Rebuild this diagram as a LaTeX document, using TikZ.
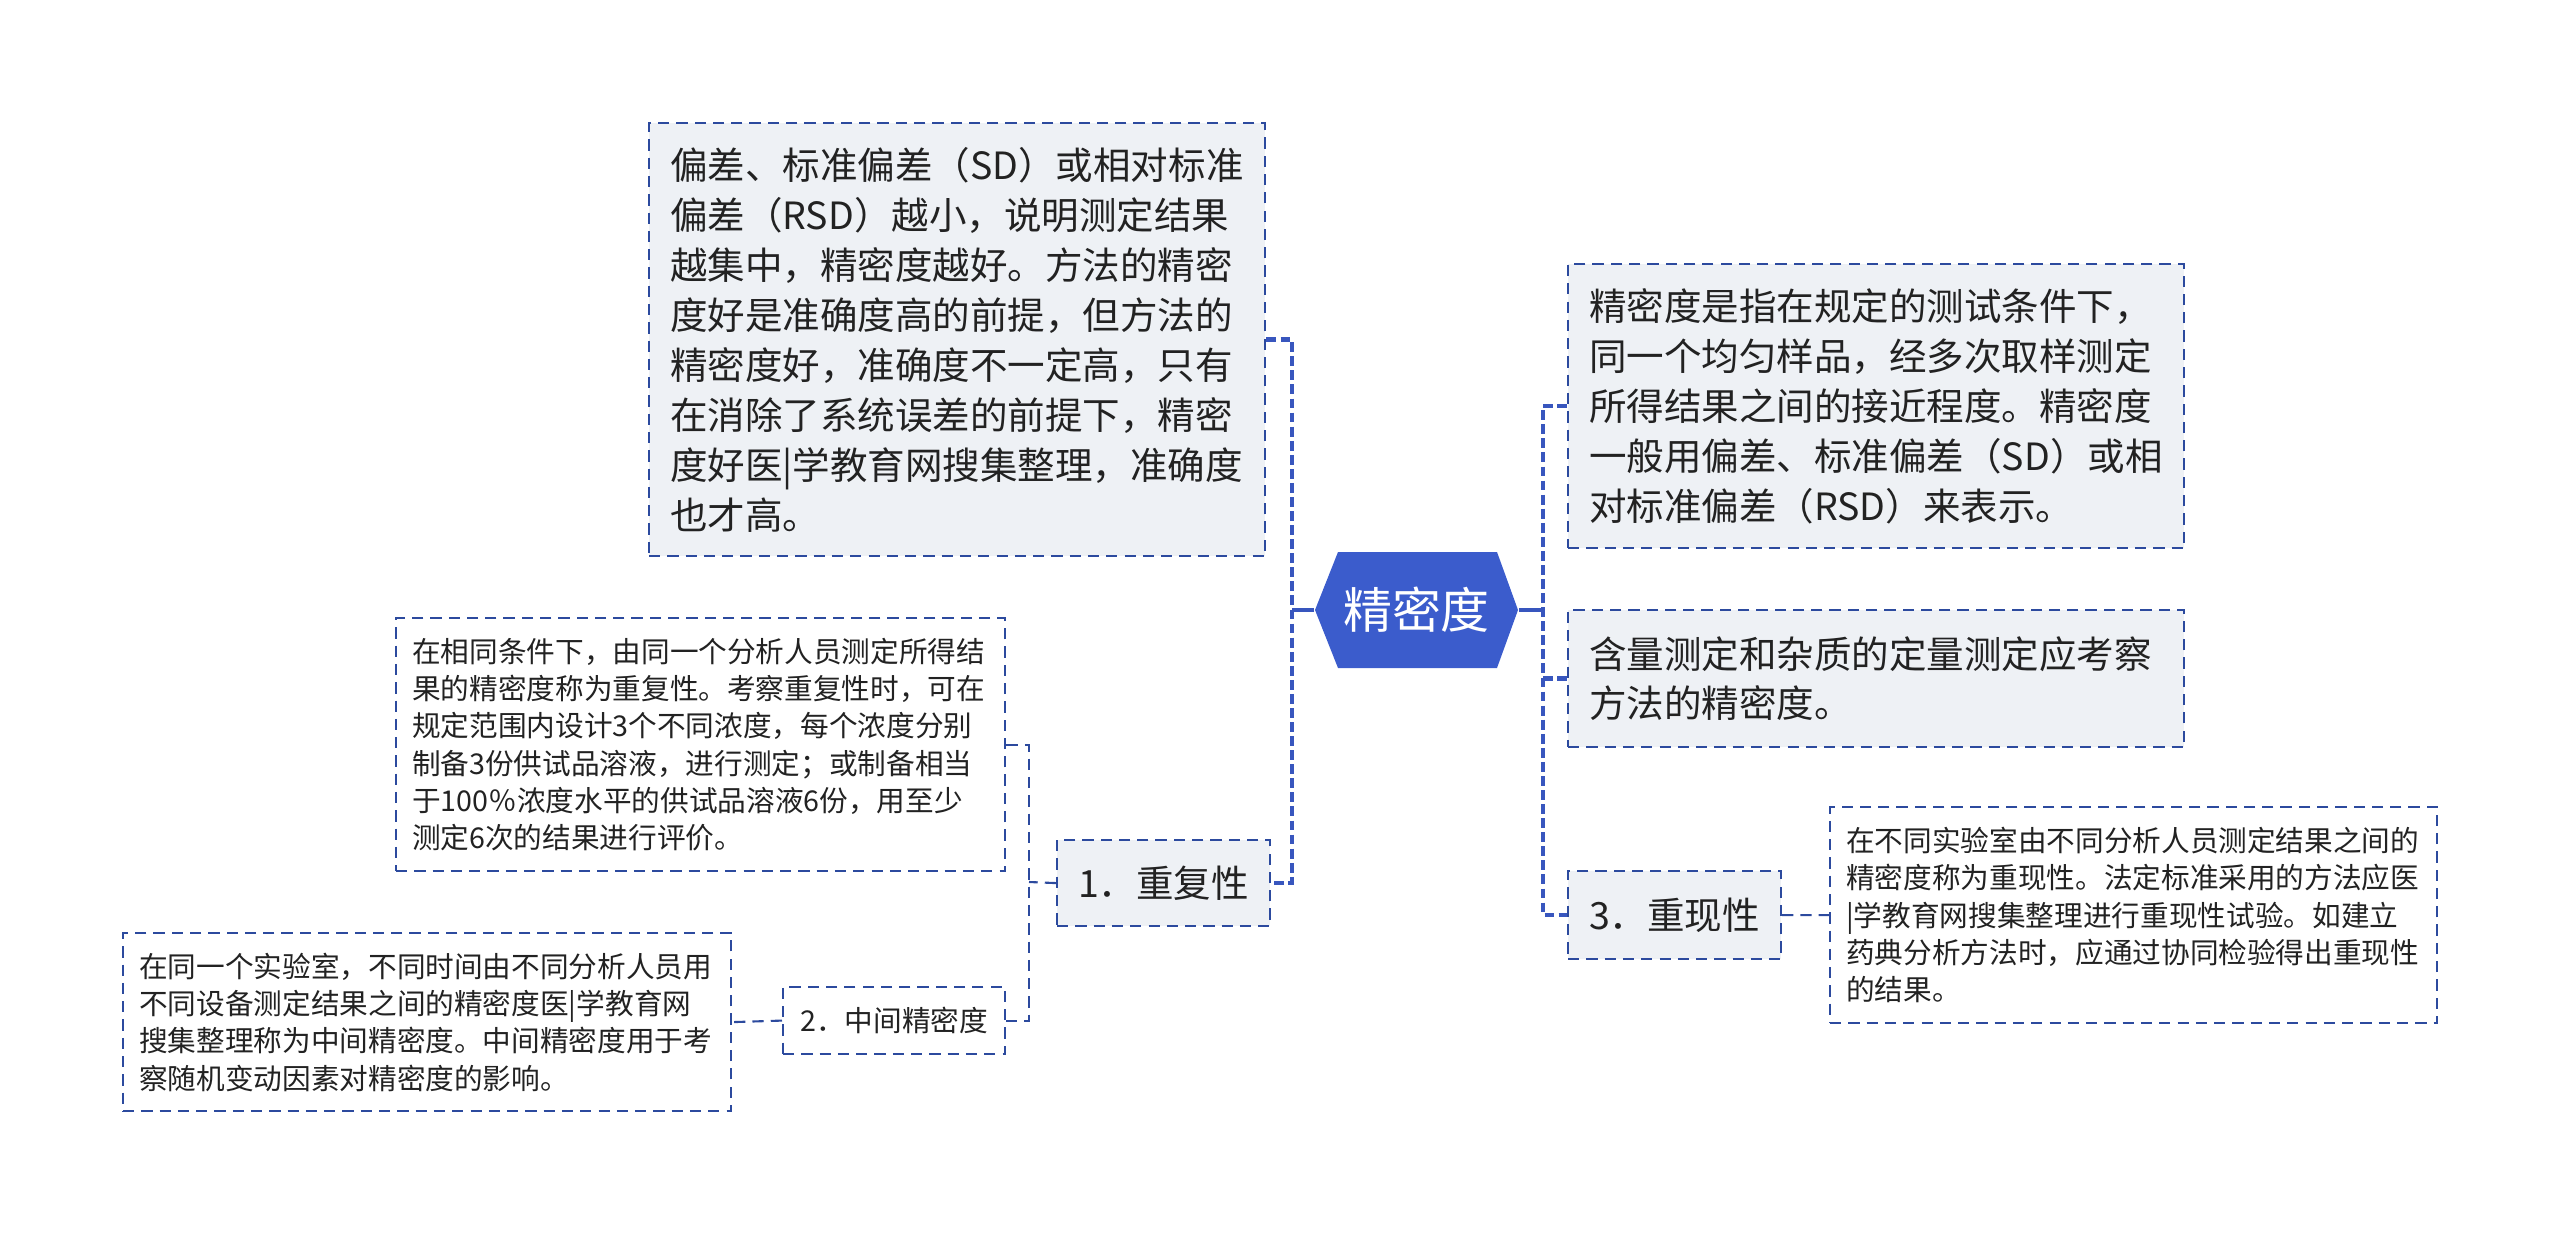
\documentclass[tikz,border=0pt]{standalone}
\usepackage{fontspec}
\setmainfont{Noto Sans CJK SC}
\definecolor{lineblue}{HTML}{3856BE}
\definecolor{edgeblue}{HTML}{2C4A9E}
\definecolor{hexblue}{HTML}{3B5CCC}
\definecolor{boxfill}{HTML}{EEF1F5}
\definecolor{inkgray}{HTML}{222222}
\newcommand{\bigtext}{\fontsize{10.67pt}{14.2pt}\selectfont}
\newcommand{\smalltext}{\fontsize{8.15pt}{10.6pt}\selectfont}
\begin{document}
\begin{tikzpicture}[x=0.01cm,y=-0.01cm,
  note/.style={draw=edgeblue,line width=0.6pt,dash pattern=on 3.2pt off 2pt,fill=boxfill,text=inkgray,align=left,anchor=north west,inner ysep=0pt,inner xsep=0.21cm,font=\bigtext},
  leaf/.style={note,fill=white,inner xsep=0.16cm,font=\smalltext},
  trunk/.style={lineblue,line width=1.3pt,dash pattern=on 2.8pt off 1.2pt},
  twig/.style={edgeblue,line width=0.6pt,dash pattern=on 3.2pt off 2pt}]
  \useasboundingbox (0,0) rectangle (2560,1233);
  \fill[hexblue] (1315,610) -- (1338,552) -- (1497,552) -- (1518,610) -- (1497,668) -- (1338,668) -- cycle;
  \node[text=white,font=\fontsize{13.9pt}{16pt}\selectfont,minimum width=2.03cm,minimum height=1.16cm,inner sep=0pt] (root) at (1416.5,610) {精密度};
  \node[note,text width=5.74cm,minimum height=4.33cm] (eval) at (648,122) {偏差、标准偏差（SD）或相对标准\\偏差（RSD）越小，说明测定结果\\越集中，精密度越好。方法的精密\\度好是准确度高的前提，但方法的\\精密度好，准确度不一定高，只有\\在消除了系统误差的前提下，精密\\度好医|学教育网搜集整理，准确度\\也才高。};
  \node[note,text width=5.74cm,minimum height=2.84cm] (defn) at (1567,263) {精密度是指在规定的测试条件下，\\同一个均匀样品，经多次取样测定\\所得结果之间的接近程度。精密度\\一般用偏差、标准偏差（SD）或相\\对标准偏差（RSD）来表示。};
  \node[note,text width=5.74cm,minimum height=1.37cm] (content) at (1567,609) {含量测定和杂质的定量测定应考察\\方法的精密度。};
  \node[note,align=center,minimum width=2.09cm,minimum height=0.88cm] (repro) at (1567,870) {3．重现性};
  \node[leaf,text width=5.75cm,minimum height=2.16cm] (reprod) at (1829,806) {在不同实验室由不同分析人员测定结果之间的\\精密度称为重现性。法定标准采用的方法应医\\|学教育网搜集整理进行重现性试验。如建立\\药典分析方法时，应通过协同检验得出重现性\\的结果。};
  \node[note,align=center,minimum width=2.08cm,minimum height=0.86cm] (rep) at (1056,839) {1．重复性};
  \node[leaf,text width=5.77cm,minimum height=2.53cm] (repd) at (395,617) {在相同条件下，由同一个分析人员测定所得结\\果的精密度称为重复性。考察重复性时，可在\\规定范围内设计3个不同浓度，每个浓度分别\\制备3份供试品溶液，进行测定；或制备相当\\于100％浓度水平的供试品溶液6份，用至少\\测定6次的结果进行评价。};
  \node[leaf,align=center,minimum width=2.22cm,minimum height=0.67cm] (mid) at (782,986) {2．中间精密度};
  \node[leaf,text width=5.76cm,minimum height=1.78cm] (midd) at (122,932) {在同一个实验室，不同时间由不同分析人员用\\不同设备测定结果之间的精密度医|学教育网\\搜集整理称为中间精密度。中间精密度用于考\\察随机变动因素对精密度的影响。};
  \coordinate (jl) at (1292,610);
  \coordinate (jr) at (1543,610);
  \coordinate (j1) at (1029,882);
  \draw[lineblue,line width=1pt] (root.west) -- (jl);
  \draw[lineblue,line width=1pt] (root.east) -- (jr);
  \draw[trunk] (eval.east) -| (jl) |- (rep.east);
  \draw[trunk] (defn.west) -| (jr) |- (repro.west);
  \draw[trunk] (jr |- content.west) -- (content.west);
  \draw[twig] (rep.west) -- (j1);
  \draw[twig] (repd.east) -| (j1) |- (mid.east);
  \draw[twig] (mid.west) -- (midd.east);
  \draw[twig] (repro.east) -- (reprod.west);
\end{tikzpicture}
\end{document}
